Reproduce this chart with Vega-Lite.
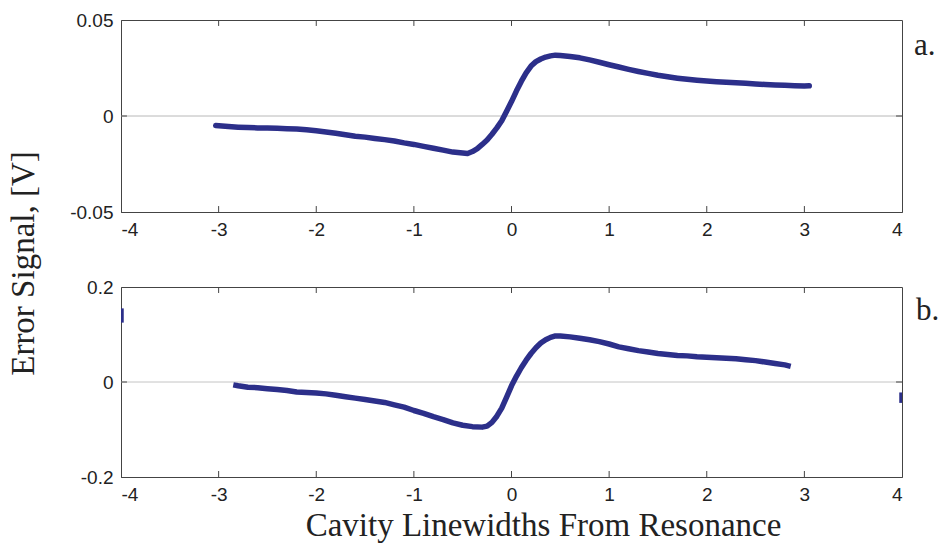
{
  "$schema": "https://vega.github.io/schema/vega-lite/v6.json",
  "background": "white",
  "padding": {"left": 6, "top": 10, "right": 2, "bottom": 0},
  "bounds": "flush",
  "spacing": 75,
  "config": {
    "view": {"stroke": "#444", "strokeWidth": 1},
    "axis": {
      "labelFont": "Liberation Sans", "labelFontSize": 19, "labelColor": "#222",
      "titleFont": "Liberation Serif", "titleFontSize": 33, "titleFontWeight": "normal", "titleColor": "#222",
      "domainColor": "#444", "ticks": false, "grid": false, "labelPadding": 8,
      "labelExpr": "toString(datum.value)"
    }
  },
  "datasets": {
    "xticks": [{"v": -3}, {"v": -2}, {"v": -1}, {"v": 0}, {"v": 1}, {"v": 2}, {"v": 3}],
    "yticks": [{"v": 0}],
    "a": [
      {"x": -3.03, "y": -0.005}, {"x": -2.9, "y": -0.0055}, {"x": -2.8, "y": -0.0058}, {"x": -2.7, "y": -0.006},
      {"x": -2.6, "y": -0.0062}, {"x": -2.5, "y": -0.0063}, {"x": -2.4, "y": -0.0064}, {"x": -2.3, "y": -0.0066},
      {"x": -2.2, "y": -0.0068}, {"x": -2.1, "y": -0.0072}, {"x": -2.0, "y": -0.0077}, {"x": -1.9, "y": -0.0083},
      {"x": -1.8, "y": -0.009}, {"x": -1.7, "y": -0.0098}, {"x": -1.6, "y": -0.0105}, {"x": -1.5, "y": -0.011},
      {"x": -1.4, "y": -0.0117}, {"x": -1.3, "y": -0.0123}, {"x": -1.2, "y": -0.013}, {"x": -1.1, "y": -0.014},
      {"x": -1.0, "y": -0.0148}, {"x": -0.9, "y": -0.0158}, {"x": -0.8, "y": -0.0168}, {"x": -0.7, "y": -0.0178},
      {"x": -0.6, "y": -0.0188}, {"x": -0.5, "y": -0.0193}, {"x": -0.45, "y": -0.0195}, {"x": -0.4, "y": -0.0185},
      {"x": -0.35, "y": -0.017}, {"x": -0.3, "y": -0.0148}, {"x": -0.25, "y": -0.0125}, {"x": -0.2, "y": -0.0095},
      {"x": -0.15, "y": -0.0062}, {"x": -0.1, "y": -0.0025}, {"x": -0.05, "y": 0.0025}, {"x": 0.0, "y": 0.0075},
      {"x": 0.05, "y": 0.013}, {"x": 0.1, "y": 0.018}, {"x": 0.15, "y": 0.0225}, {"x": 0.2, "y": 0.026},
      {"x": 0.25, "y": 0.0283}, {"x": 0.3, "y": 0.0297}, {"x": 0.35, "y": 0.0307}, {"x": 0.4, "y": 0.0313},
      {"x": 0.45, "y": 0.0317}, {"x": 0.5, "y": 0.0315}, {"x": 0.6, "y": 0.031}, {"x": 0.7, "y": 0.0303},
      {"x": 0.8, "y": 0.0292}, {"x": 0.9, "y": 0.028}, {"x": 1.0, "y": 0.0267}, {"x": 1.1, "y": 0.0255},
      {"x": 1.2, "y": 0.0243}, {"x": 1.3, "y": 0.0232}, {"x": 1.4, "y": 0.0222}, {"x": 1.5, "y": 0.0212},
      {"x": 1.6, "y": 0.0204}, {"x": 1.7, "y": 0.0197}, {"x": 1.8, "y": 0.0191}, {"x": 1.9, "y": 0.0186},
      {"x": 2.0, "y": 0.0182}, {"x": 2.1, "y": 0.0179}, {"x": 2.2, "y": 0.0176}, {"x": 2.3, "y": 0.0173},
      {"x": 2.4, "y": 0.017}, {"x": 2.5, "y": 0.0167}, {"x": 2.6, "y": 0.0164}, {"x": 2.7, "y": 0.0162},
      {"x": 2.8, "y": 0.016}, {"x": 2.9, "y": 0.0158}, {"x": 3.0, "y": 0.0156}, {"x": 3.05, "y": 0.0157}
    ],
    "b": [
      {"seg": "main", "x": -2.85, "y": -0.006}, {"seg": "main", "x": -2.8, "y": -0.008}, {"seg": "main", "x": -2.7, "y": -0.011},
      {"seg": "main", "x": -2.6, "y": -0.012}, {"seg": "main", "x": -2.5, "y": -0.014}, {"seg": "main", "x": -2.4, "y": -0.016},
      {"seg": "main", "x": -2.3, "y": -0.018}, {"seg": "main", "x": -2.2, "y": -0.021}, {"seg": "main", "x": -2.1, "y": -0.022},
      {"seg": "main", "x": -2.0, "y": -0.023}, {"seg": "main", "x": -1.9, "y": -0.025}, {"seg": "main", "x": -1.8, "y": -0.028},
      {"seg": "main", "x": -1.7, "y": -0.031}, {"seg": "main", "x": -1.6, "y": -0.034}, {"seg": "main", "x": -1.5, "y": -0.037},
      {"seg": "main", "x": -1.4, "y": -0.04}, {"seg": "main", "x": -1.3, "y": -0.043}, {"seg": "main", "x": -1.2, "y": -0.048},
      {"seg": "main", "x": -1.1, "y": -0.053}, {"seg": "main", "x": -1.0, "y": -0.06}, {"seg": "main", "x": -0.9, "y": -0.066},
      {"seg": "main", "x": -0.8, "y": -0.073}, {"seg": "main", "x": -0.7, "y": -0.079}, {"seg": "main", "x": -0.6, "y": -0.086},
      {"seg": "main", "x": -0.5, "y": -0.091}, {"seg": "main", "x": -0.4, "y": -0.094}, {"seg": "main", "x": -0.3, "y": -0.095},
      {"seg": "main", "x": -0.25, "y": -0.093}, {"seg": "main", "x": -0.2, "y": -0.085}, {"seg": "main", "x": -0.15, "y": -0.072},
      {"seg": "main", "x": -0.1, "y": -0.055}, {"seg": "main", "x": -0.05, "y": -0.032}, {"seg": "main", "x": 0.0, "y": -0.008},
      {"seg": "main", "x": 0.05, "y": 0.012}, {"seg": "main", "x": 0.1, "y": 0.03}, {"seg": "main", "x": 0.15, "y": 0.046},
      {"seg": "main", "x": 0.2, "y": 0.06}, {"seg": "main", "x": 0.25, "y": 0.072}, {"seg": "main", "x": 0.3, "y": 0.082},
      {"seg": "main", "x": 0.35, "y": 0.089}, {"seg": "main", "x": 0.4, "y": 0.094}, {"seg": "main", "x": 0.45, "y": 0.097},
      {"seg": "main", "x": 0.5, "y": 0.097}, {"seg": "main", "x": 0.6, "y": 0.095}, {"seg": "main", "x": 0.7, "y": 0.092},
      {"seg": "main", "x": 0.8, "y": 0.089}, {"seg": "main", "x": 0.9, "y": 0.085}, {"seg": "main", "x": 1.0, "y": 0.08},
      {"seg": "main", "x": 1.1, "y": 0.074}, {"seg": "main", "x": 1.2, "y": 0.07}, {"seg": "main", "x": 1.3, "y": 0.066},
      {"seg": "main", "x": 1.4, "y": 0.063}, {"seg": "main", "x": 1.5, "y": 0.06}, {"seg": "main", "x": 1.6, "y": 0.058},
      {"seg": "main", "x": 1.7, "y": 0.056}, {"seg": "main", "x": 1.8, "y": 0.055}, {"seg": "main", "x": 1.9, "y": 0.053},
      {"seg": "main", "x": 2.0, "y": 0.052}, {"seg": "main", "x": 2.1, "y": 0.051}, {"seg": "main", "x": 2.2, "y": 0.05},
      {"seg": "main", "x": 2.3, "y": 0.049}, {"seg": "main", "x": 2.4, "y": 0.047}, {"seg": "main", "x": 2.5, "y": 0.045},
      {"seg": "main", "x": 2.6, "y": 0.042}, {"seg": "main", "x": 2.7, "y": 0.039}, {"seg": "main", "x": 2.8, "y": 0.036},
      {"seg": "main", "x": 2.86, "y": 0.033},
      {"seg": "left", "x": -4.0, "y": 0.125}, {"seg": "left", "x": -4.0, "y": 0.155},
      {"seg": "right", "x": 4.0, "y": -0.022}, {"seg": "right", "x": 4.0, "y": -0.044}
    ]
  },
  "vconcat": [
    {
      "width": 781,
      "height": 192,
      "layer": [
        {
          "data": {"values": [{}]},
          "mark": {"type": "rule", "color": "#b8b8b8", "strokeWidth": 1},
          "encoding": {
            "y": {"datum": 0, "type": "quantitative", "scale": {"domain": [-0.05, 0.05], "nice": false, "zero": false}, "axis": null}
          }
        },
        {
          "data": {"name": "xticks"},
          "mark": {"type": "rule", "color": "#444", "strokeWidth": 1},
          "encoding": {
            "x": {"field": "v", "type": "quantitative", "axis": null},
            "y": {"datum": 0.05, "type": "quantitative", "axis": null},
            "y2": {"datum": 0.0469}
          }
        },
        {
          "data": {"name": "xticks"},
          "mark": {"type": "rule", "color": "#444", "strokeWidth": 1},
          "encoding": {
            "x": {"field": "v", "type": "quantitative", "axis": null},
            "y": {"datum": -0.05, "type": "quantitative", "axis": null},
            "y2": {"datum": -0.0469}
          }
        },
        {
          "data": {"name": "yticks"},
          "mark": {"type": "rule", "color": "#444", "strokeWidth": 1},
          "encoding": {
            "y": {"field": "v", "type": "quantitative", "axis": null},
            "x": {"datum": -4, "type": "quantitative", "axis": null},
            "x2": {"datum": -3.939}
          }
        },
        {
          "data": {"name": "yticks"},
          "mark": {"type": "rule", "color": "#444", "strokeWidth": 1},
          "encoding": {
            "y": {"field": "v", "type": "quantitative", "axis": null},
            "x": {"datum": 4, "type": "quantitative", "axis": null},
            "x2": {"datum": 3.939}
          }
        },
        {
          "data": {"name": "a"},
          "mark": {"type": "line", "color": "#2c2f8a", "strokeWidth": 5.5, "clip": true, "strokeJoin": "round", "strokeCap": "round"},
          "encoding": {
            "x": {"field": "x", "type": "quantitative", "scale": {"domain": [-4, 4], "nice": false, "zero": false},
                  "axis": {"orient": "bottom", "values": [-4, -3, -2, -1, 0, 1, 2, 3, 4], "title": null}},
            "y": {"field": "y", "type": "quantitative",
                  "axis": {"orient": "left", "values": [-0.05, 0, 0.05],
                           "title": "Error Signal, [V]", "titleX": -88, "titleY": 243, "titleAngle": -90,
                           "titleAnchor": null, "titleAlign": "center", "titleBaseline": "alphabetic"}}
          }
        },
        {
          "data": {"values": [{}]},
          "mark": {"type": "text", "font": "Liberation Serif", "fontSize": 31, "fontWeight": "normal", "color": "#222", "align": "left", "baseline": "alphabetic", "dx": 12, "clip": false},
          "encoding": {
            "x": {"datum": 4, "type": "quantitative", "axis": null},
            "y": {"datum": 0.0318, "type": "quantitative", "axis": null},
            "text": {"value": "a."}
          }
        }
      ],
      "resolve": {"axis": {"x": "independent", "y": "independent"}}
    },
    {
      "width": 781,
      "height": 190,
      "layer": [
        {
          "data": {"values": [{}]},
          "mark": {"type": "rule", "color": "#c4c4c4", "strokeWidth": 1},
          "encoding": {
            "y": {"datum": 0, "type": "quantitative", "scale": {"domain": [-0.2, 0.2], "nice": false, "zero": false}, "axis": null}
          }
        },
        {
          "data": {"name": "xticks"},
          "mark": {"type": "rule", "color": "#444", "strokeWidth": 1},
          "encoding": {
            "x": {"field": "v", "type": "quantitative", "axis": null},
            "y": {"datum": 0.2, "type": "quantitative", "axis": null},
            "y2": {"datum": 0.1874}
          }
        },
        {
          "data": {"name": "xticks"},
          "mark": {"type": "rule", "color": "#444", "strokeWidth": 1},
          "encoding": {
            "x": {"field": "v", "type": "quantitative", "axis": null},
            "y": {"datum": -0.2, "type": "quantitative", "axis": null},
            "y2": {"datum": -0.1874}
          }
        },
        {
          "data": {"name": "yticks"},
          "mark": {"type": "rule", "color": "#444", "strokeWidth": 1},
          "encoding": {
            "y": {"field": "v", "type": "quantitative", "axis": null},
            "x": {"datum": -4, "type": "quantitative", "axis": null},
            "x2": {"datum": -3.939}
          }
        },
        {
          "data": {"name": "yticks"},
          "mark": {"type": "rule", "color": "#444", "strokeWidth": 1},
          "encoding": {
            "y": {"field": "v", "type": "quantitative", "axis": null},
            "x": {"datum": 4, "type": "quantitative", "axis": null},
            "x2": {"datum": 3.939}
          }
        },
        {
          "data": {"name": "b"},
          "mark": {"type": "line", "color": "#2c2f8a", "strokeWidth": 5.5, "clip": true, "strokeJoin": "round", "strokeCap": "butt"},
          "encoding": {
            "x": {"field": "x", "type": "quantitative", "scale": {"domain": [-4, 4], "nice": false, "zero": false},
                  "axis": {"orient": "bottom", "values": [-4, -3, -2, -1, 0, 1, 2, 3, 4],
                           "title": "Cavity Linewidths From Resonance", "titleX": 422, "titleY": 58, "titleAnchor": null,
                           "titleAlign": "center", "titleBaseline": "alphabetic"}},
            "y": {"field": "y", "type": "quantitative",
                  "axis": {"orient": "left", "values": [-0.2, 0, 0.2], "title": null}},
            "detail": {"field": "seg", "type": "nominal"}
          }
        },
        {
          "data": {"values": [{}]},
          "mark": {"type": "text", "font": "Liberation Serif", "fontSize": 31, "fontWeight": "normal", "color": "#222", "align": "left", "baseline": "alphabetic", "dx": 14, "clip": false},
          "encoding": {
            "x": {"datum": 4, "type": "quantitative", "axis": null},
            "y": {"datum": 0.13, "type": "quantitative", "axis": null},
            "text": {"value": "b."}
          }
        }
      ],
      "resolve": {"axis": {"x": "independent", "y": "independent"}}
    }
  ]
}
